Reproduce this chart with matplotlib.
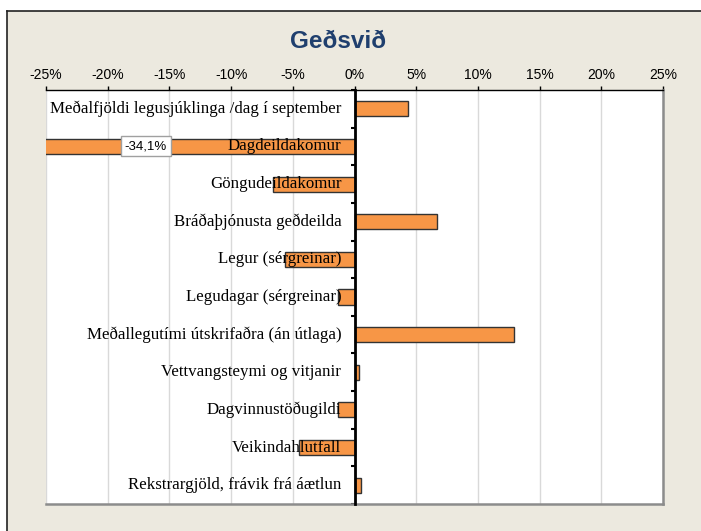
import numpy as np
import matplotlib
matplotlib.use('Agg')
import matplotlib.pyplot as plt
from matplotlib.patches import Rectangle
from matplotlib.ticker import FuncFormatter

categories = [
    'Meðalfjöldi legusjúklinga /dag í september',
    'Dagdeildakomur',
    'Göngudeildakomur',
    'Bráðaþjónusta geðdeilda',
    'Legur (sérgreinar)',
    'Legudagar (sérgreinar)',
    'Meðallegutími útskrifaðra (án útlaga)',
    'Vettvangsteymi og vitjanir',
    'Dagvinnustöðugildi',
    'Veikindahlutfall',
    'Rekstrargjöld, frávik frá áætlun',
]
values = [4.3, -34.1, -6.6, 6.7, -5.6, -1.3, 12.9, 0.4, -1.3, -4.5, 0.5]
xticks = [-25, -20, -15, -10, -5, 0, 5, 10, 15, 20, 25]
clipped_label = '-34,1%'

beige = '#ECE9DF'
bar_col = '#F79646'

fig = plt.figure(figsize=(7.01, 5.31), dpi=100, facecolor='white')
# beige chart panel with dark top/left border
panel = Rectangle((7 / 701, 0), 1.0, 1 - 11 / 531, transform=fig.transFigure,
                  facecolor=beige, edgecolor='none', zorder=-2)
fig.patches.append(panel)
fig.add_artist(plt.Line2D([7 / 701, 7 / 701], [0, 1 - 11 / 531], transform=fig.transFigure,
                          color='#222222', lw=1.2, zorder=-1))
fig.add_artist(plt.Line2D([7 / 701, 1], [1 - 11 / 531, 1 - 11 / 531], transform=fig.transFigure,
                          color='#222222', lw=1.2, zorder=-1))

ax = fig.add_axes([46 / 701, 1 - 504 / 531, (663 - 46) / 701, (504 - 90) / 531])
ax.set_zorder(2)
ax.set_facecolor('white')

y = np.arange(len(categories))
ax.barh(y, values, height=0.4, color=bar_col, edgecolor='#333333', linewidth=1, zorder=2)

ax.set_xlim(-25, 25)
ax.set_ylim(len(categories) - 0.5, -0.5)
ax.set_xticks(xticks)
ax.xaxis.set_major_formatter(FuncFormatter(lambda v, p: '%d%%' % v))
ax.xaxis.tick_top()
ax.tick_params(axis='x', direction='out', length=3, width=1, color='black',
               labelsize=10, pad=2.5, labelfontfamily='Liberation Sans')
ax.grid(axis='x', color='#D9D9D9', lw=1, zorder=0)
ax.set_axisbelow(True)

# zero axis with small ticks between categories
ax.spines['left'].set_position(('data', 0))
ax.spines['left'].set_linewidth(2)
ax.spines['left'].set_color('black')
ax.spines['left'].set_zorder(4)
ax.set_yticks(np.arange(-0.5, len(categories), 1.0))
ax.set_yticklabels([])
ax.tick_params(axis='y', direction='out', length=3, width=1.5, color='black')
ax.spines['top'].set_color('black')
ax.spines['top'].set_linewidth(1)
for s in ['right', 'bottom']:
    ax.spines[s].set_color('#8C8C8C')
    ax.spines[s].set_linewidth(1.8)

for i, lab in enumerate(categories):
    ax.annotate(lab, xy=(0, i), xytext=(-9.5, 0), textcoords='offset points',
                ha='right', va='center', fontsize=12.2, family='Liberation Serif',
                color='black', zorder=5, annotation_clip=False)

ax.text(-16.9, 1, clipped_label, ha='center', va='center', fontsize=9.5,
        family='Liberation Sans', zorder=6,
        bbox=dict(boxstyle='square,pad=0.3', facecolor='white', edgecolor='#A0A0A0', lw=1))

fig.text(338 / 701, 1 - 42 / 531, 'Geðsvið', ha='center', va='center', fontsize=17.5,
         fontweight='bold', color='#1F3F6E', family='Liberation Sans')

fig.savefig('out.png', dpi=100, facecolor='white')
